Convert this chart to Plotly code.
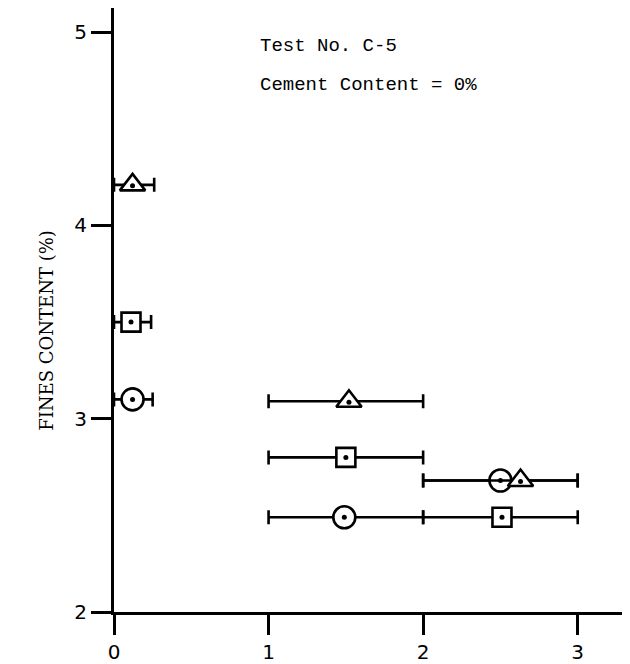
import plotly.graph_objects as go

# Data: (x centre, y, range low, range high) per symbol series
circle_x = [0.12, 2.50, 1.49]
circle_y = [3.10, 2.68, 2.49]
circle_lo = [0.0, 2.0, 1.0]
circle_hi = [0.25, 3.0, 2.0]

square_x = [0.11, 1.50, 2.51]
square_y = [3.50, 2.80, 2.49]
square_lo = [0.0, 1.0, 2.0]
square_hi = [0.24, 2.0, 3.0]

triangle_x = [0.12, 1.52, 2.63]
triangle_y = [4.21, 3.09, 2.68]
triangle_lo = [0.0, 1.0, 2.0]
triangle_hi = [0.26, 2.0, 3.0]

x_ticks = [0, 1, 2, 3]
y_ticks = [2, 3, 4, 5]

fig = go.Figure()

def add_series(xs, ys, lo, hi, symbol, size, dot_dy=0.0):
    fig.add_trace(go.Scatter(
        x=xs, y=ys, mode="markers",
        marker=dict(symbol=symbol, size=size, color="white",
                    line=dict(color="black", width=2.6)),
        error_x=dict(type="data", symmetric=False,
                     array=[h - x for h, x in zip(hi, xs)],
                     arrayminus=[x - l for x, l in zip(xs, lo)],
                     color="black", thickness=2.6, width=7),
        showlegend=False, cliponaxis=False,
    ))
    fig.add_trace(go.Scatter(
        x=xs, y=[v + dot_dy for v in ys], mode="markers",
        marker=dict(symbol="circle", size=5, color="black"),
        showlegend=False, cliponaxis=False,
    ))

add_series(circle_x, circle_y, circle_lo, circle_hi, "circle", 22)
add_series(square_x, square_y, square_lo, square_hi, "square", 19)
add_series(triangle_x, triangle_y, triangle_lo, triangle_hi, "triangle-up", 22, -0.005)

axis_common = dict(showgrid=False, zeroline=False, showline=True, linecolor="black",
                   linewidth=3, ticks="outside", tickcolor="black", tickwidth=2.5,
                   ticklen=20, tickfont=dict(family="DejaVu Sans", size=20, color="black"))

fig.update_layout(
    width=630, height=664,
    margin=dict(l=106, r=0, t=0, b=60),
    plot_bgcolor="white", paper_bgcolor="white",
    xaxis=dict(range=[0, 3.39], tickvals=x_ticks, **axis_common),
    yaxis=dict(range=[2, 5.125], tickvals=y_ticks, **axis_common),
    annotations=[
        dict(x=0.93, y=4.93, xref="x", yref="y", text="Test No. C-5",
             showarrow=False, xanchor="left", yanchor="middle",
             font=dict(family="Liberation Mono", size=19, color="black")),
        dict(x=0.93, y=4.725, xref="x", yref="y", text="Cement Content = 0%",
             showarrow=False, xanchor="left", yanchor="middle",
             font=dict(family="Liberation Mono", size=19, color="black")),
        dict(x=-0.128, y=3.46, xref="paper", yref="y", text="FINES CONTENT (%)",
             showarrow=False, textangle=-90, xanchor="center", yanchor="middle",
             font=dict(family="DejaVu Serif", size=18, color="black")),
    ],
)

fig.write_html("out.html")
